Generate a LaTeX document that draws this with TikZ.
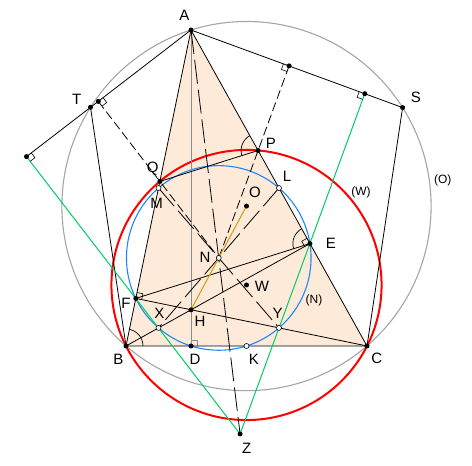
\documentclass[tikz,border=0pt]{standalone}
\usepackage{fontspec}
\setmainfont{Liberation Sans}
\usetikzlibrary{calc,angles}
\definecolor{peach}{RGB}{253,234,216}
\definecolor{circred}{RGB}{255,0,0}
\definecolor{circblue}{RGB}{30,135,255}
\definecolor{circgray}{RGB}{165,165,165}
\definecolor{lgreen}{RGB}{0,205,100}
\definecolor{eorange}{RGB}{220,160,20}
\definecolor{altgray}{RGB}{140,140,140}
\newcommand\rtmark[4][black]{%
  \coordinate (ra) at ($(#3)!6pt!(#2)$);
  \coordinate (rb) at ($(#3)!6pt!(#4)$);
  \draw[#1,line width=0.6pt] (ra) -- ($(ra)+(rb)-(#3)$) -- (rb);}
\begin{document}
\begin{tikzpicture}[x=1pt,y=1pt,
  dot/.style={circle,fill=black,inner sep=0pt,minimum size=5pt},
  wdot/.style={circle,draw=black,fill=white,inner sep=0pt,minimum size=5pt,line width=0.6pt},
  lbl/.style={font=\fontsize{15}{15}\selectfont,inner sep=0pt},
  clbl/.style={font=\fontsize{12}{12}\selectfont,inner sep=0pt},
  ln/.style={line width=0.8pt},
  mdash/.style={line width=0.8pt,dash pattern=on 9pt off 4pt},
  ldash/.style={line width=0.8pt,dash pattern=on 24pt off 6pt},
  gline/.style={lgreen,line width=1pt},
  angarc/.style={draw,line width=0.7pt,angle radius=17pt}]
\useasboundingbox (0,0) rectangle (472,466);
% points
\coordinate (A) at (191,436);
\coordinate (B) at (126,120);
\coordinate (C) at (367,120);
\coordinate (D) at (191,120);
\coordinate (E) at (309.9,222.4);
\coordinate (F) at (135.8,167.6);
\coordinate (H) at (191,156.2);
\coordinate (O) at (246.5,259.9);
\coordinate (N) at (218.75,208.05);
\coordinate (W) at (246.5,181.0);
\coordinate (K) at (246.5,120);
\coordinate (L) at (279,278);
\coordinate (M) at (158.5,278);
\coordinate (X) at (158.5,138.1);
\coordinate (Y) at (279,138.1);
\coordinate (Q) at (159.9,284.6);
\coordinate (P) at (258.1,315.5);
\coordinate (T) at (90.5,358.7);
\coordinate (S) at (402.6,358.4);
\coordinate (G1) at (98.3,364.6);
\coordinate (G2) at (26.5,309.4);
\coordinate (G3) at (289.1,400.1);
\coordinate (G4) at (364.8,372.3);
\coordinate (Z) at (240.1,32.0);
% triangle fill
\fill[peach] (A) -- (B) -- (C) -- cycle;
% circles
\draw[circgray,line width=1.1pt] (O) circle (184.6pt);
\draw[circblue,line width=1.1pt] (N) circle (92.3pt);
\draw[circred,line width=2pt] (W) circle (135.06pt);
% altitude AD
\draw[altgray,line width=0.7pt] (A) -- (D);
\rtmark[altgray]{A}{D}{C}
% triangle sides
\draw[ln] (A) -- (B) -- (C) -- cycle;
% cevians
\draw[ln] (B) -- (E);
\draw[ln] (C) -- (F);
\draw[ln] (F) -- (E);
\draw[ln] (P) -- (Q);
% lines through A
\draw[ln] (G2) -- (A) -- (S);
\draw[ln] (T) -- (B);
\draw[ln] (S) -- (C);
% green lines
\draw[gline] (G2) -- (Z) -- (G4);
% dashed lines
\draw[mdash] (G1) -- (N);
\draw[mdash] (G3) -- (N);
\draw[ldash] (A) -- (Z);
\draw[ldash] (M) -- (Y);
\draw[ldash] (L) -- (X);
% Euler segment
\draw[eorange,line width=1.1pt] (H) -- (O);
% angle marks
\pic[angarc] {angle = C--B--A};
\pic[angarc] {angle = A--P--Q};
\pic[angarc] {angle = A--E--F};
% right angle marks
\rtmark{A}{F}{C}
\rtmark{A}{E}{B}
\rtmark{A}{G1}{N}
\rtmark{A}{G2}{F}
\rtmark{A}{G3}{P}
\rtmark{A}{G4}{E}
% dots
\foreach \p in {A,B,C,D,E,F,H,O,W,Q,P,T,S,G1,G2,G3,G4,Z}
  \node[dot] (d\p) at (\p) {};
\foreach \p in {M,L,N,X,Y,K}
  \node[wdot] (d\p) at (\p) {};
% labels
\node[lbl] (lA) at (184.3,451) {A};
\node[lbl] (lT) at (76.7,367) {T};
\node[lbl] (lS) at (416,368.7) {S};
\node[lbl] (lP) at (271,323) {P};
\node[lbl] (lQ) at (152.7,297.7) {Q};
\node[lbl] (lM) at (156.7,262.7) {M};
\node[lbl] (lL) at (287,289.3) {L};
\node[lbl] (lO) at (255,274) {O};
\node[lbl] (lE) at (331,223) {E};
\node[lbl] (lN) at (205,209) {N};
\node[lbl] (lW) at (262,180) {W};
\node[lbl] (lF) at (126,163) {F};
\node[lbl] (lH) at (200,145) {H};
\node[lbl] (lX) at (159.3,153) {X};
\node[lbl] (lY) at (277.7,153) {Y};
\node[lbl] (lB) at (118.3,106.3) {B};
\node[lbl] (lD) at (195,106.3) {D};
\node[lbl] (lK) at (254,107) {K};
\node[lbl] (lC) at (376.7,108) {C};
\node[lbl] (lZ) at (246.7,18) {Z};
\node[clbl] (lcN) at (314,166) {(N)};
\node[clbl] (lcW) at (361,274) {(W)};
\node[clbl] (lcO) at (442.7,286) {(O)};
\end{tikzpicture}
\end{document}
